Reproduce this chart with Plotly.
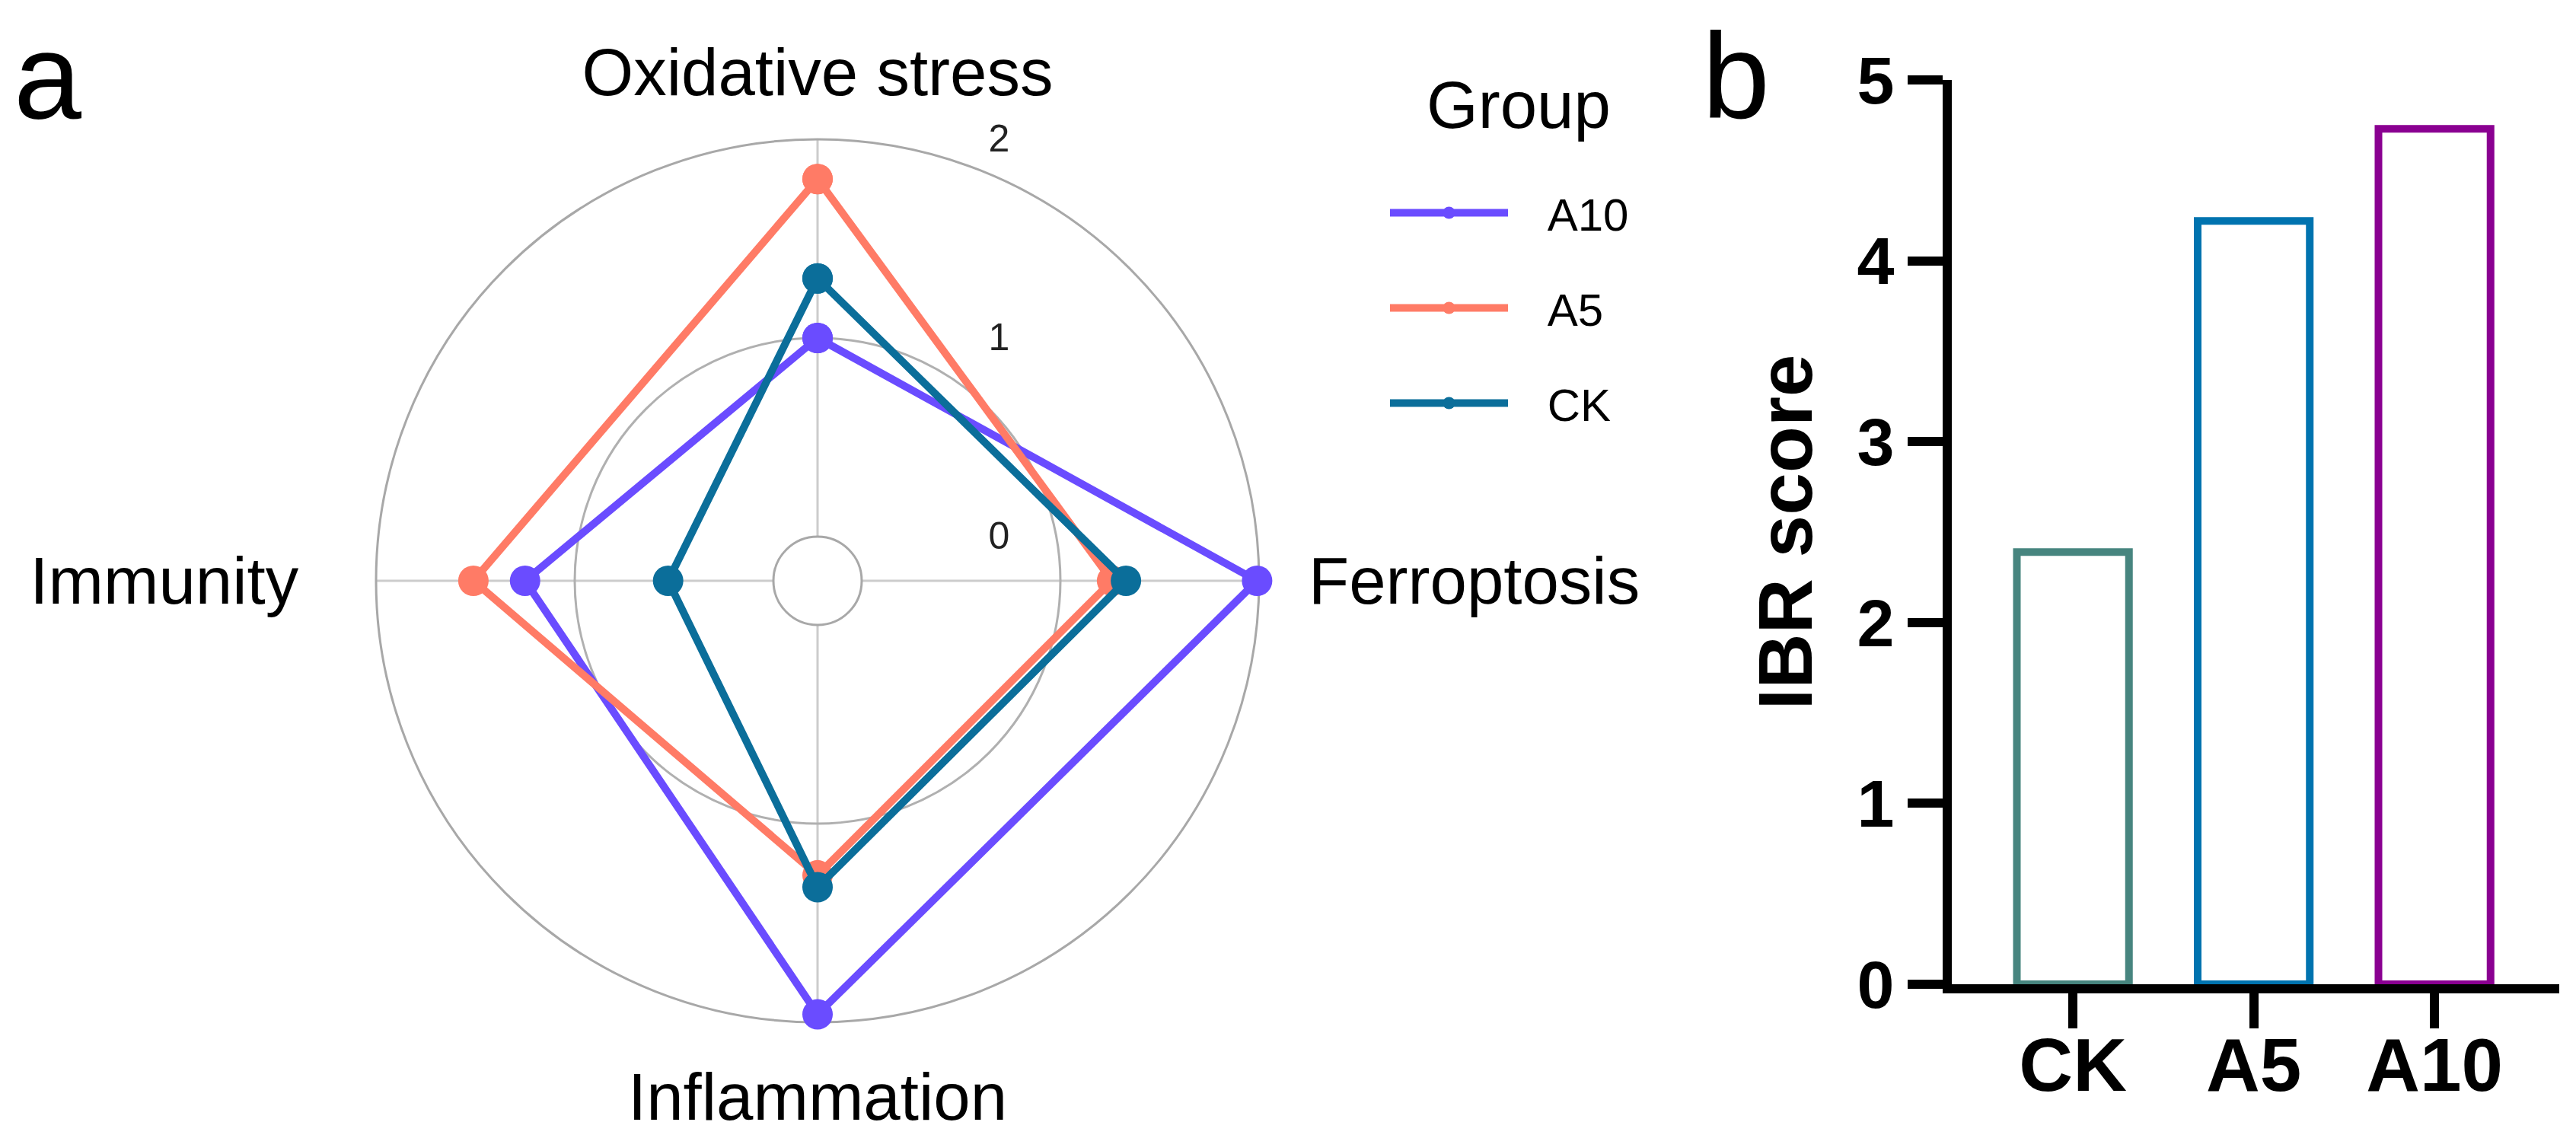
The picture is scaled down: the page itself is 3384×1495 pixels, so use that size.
import plotly.graph_objects as go

# ---------------- data ----------------
axes_names = ["Oxidative stress", "Ferroptosis", "Inflammation", "Immunity"]
axes_text = ["Oxidative stress", "\u00a0Ferroptosis", "Inflammation", "Immunity\u2002\u2009"]
groups = ["A10", "A5", "CK"]
radar_A10 = [1.00, 1.99, 1.96, 1.25]
radar_A5 = [1.80, 1.26, 1.26, 1.51]
radar_CK = [1.30, 1.33, 1.32, 0.53]
radar_colors = ["#6a4cff", "#ff7b66", "#0b6e9a"]
radial_ticks = [0, 1, 2]

bar_categories = ["CK", "A5", "A10"]
bar_values = [2.39, 4.22, 4.73]
bar_colors = ["#47857f", "#0073af", "#8a0091"]
bar_ticks = [0, 1, 2, 3, 4, 5]

FONT = "Liberation Sans, Arial, sans-serif"
W, H = 3384, 1495

fig = go.Figure()

radar_values = [radar_A10, radar_A5, radar_CK]
for g, vals, col in zip(groups, radar_values, radar_colors):
    fig.add_trace(go.Scatterpolar(
        r=vals + vals[:1],
        theta=axes_names + axes_names[:1],
        mode="lines+markers",
        name="\u2002\u00a0" + g,
        legendgroup=g,
        line=dict(color=col, width=10),
        marker=dict(color=col, size=40),
        subplot="polar",
    ))

fig.add_trace(go.Bar(
    x=bar_categories,
    y=bar_values,
    width=0.62,
    marker=dict(color="white", line=dict(color=bar_colors, width=10)),
    showlegend=False,
    xaxis="x", yaxis="y",
))

# polar geometry (center 1066,755 ; radius 580 px)
cx, cy, R = 1066, 755, 580
fig.update_layout(
    width=W, height=H,
    margin=dict(l=0, r=0, t=0, b=0, autoexpand=False),
    paper_bgcolor="white",
    plot_bgcolor="white",
    font=dict(family=FONT, color="black"),
    polar=dict(
        domain=dict(x=[(cx - R) / W, (cx + R) / W],
                    y=[(H - cy - R) / H, (H - cy + R) / H]),
        hole=0.1,
        bgcolor="white",
        radialaxis=dict(
            range=[0, 2], tickvals=radial_ticks, angle=90, tickangle=90,
            showline=False, ticks="outside", ticklen=214,
            tickcolor="rgba(0,0,0,0)",
            tickfont=dict(size=50, color="#222222"),
            gridcolor="#b0b0b0", gridwidth=3,
            layer="below traces",
        ),
        angularaxis=dict(
            categoryorder="array", categoryarray=axes_names,
            tickmode="array", tickvals=axes_names, ticktext=axes_text,
            direction="clockwise", rotation=90,
            showline=True, linecolor="#a8a8a8", linewidth=3,
            gridcolor="#cccccc", gridwidth=3,
            ticks="outside", ticklen=22, tickcolor="rgba(0,0,0,0)",
            tickfont=dict(size=87, color="black"),
            layer="below traces",
        ),
    ),
    xaxis=dict(
        domain=[2556 / W, 3354 / W],
        range=[-0.67, 2.69],
        automargin=False,
        showline=True, linecolor="black", linewidth=12,
        ticks="outside", ticklen=46, tickwidth=12, tickcolor="black",
        ticklabelstandoff=-36,
        tickfont=dict(size=98, family=FONT, color="black", weight="bold"),
        showgrid=False, zeroline=False,
        anchor="y",
    ),
    yaxis=dict(
        domain=[(H - 1285) / H, (H - 97) / H],
        range=[0, 5], tickvals=bar_ticks,
        automargin=False,
        showline=True, linecolor="black", linewidth=12,
        ticks="outside", ticklen=46, tickwidth=12, tickcolor="black",
        tickfont=dict(size=88, family=FONT, color="black", weight="bold"),
        showgrid=False, zeroline=False,
        title=dict(text="IBR score", standoff=30,
                   font=dict(size=100, family=FONT, color="black", weight="bold")),
        anchor="x",
    ),
    legend=dict(
        x=1813 / W, y=1 - 226 / H, xanchor="left", yanchor="top",
        font=dict(size=60, family=FONT, color="black"),
        itemwidth=155,
        tracegroupgap=44,
        bgcolor="rgba(0,0,0,0)",
    ),
    annotations=[
        dict(text="a", x=8 / W, y=1.0, xref="paper", yref="paper",
             xanchor="left", yanchor="top", showarrow=False,
             font=dict(size=160, family=FONT, color="black")),
        dict(text="b", x=2226 / W, y=1.0, xref="paper", yref="paper",
             xanchor="left", yanchor="top", showarrow=False,
             font=dict(size=160, family=FONT, color="black")),
        dict(text="Group", x=1987 / W, y=1 - 129 / H, xref="paper", yref="paper",
             xanchor="center", yanchor="middle", showarrow=False,
             font=dict(size=87, family=FONT, color="black")),
    ],
)

fig.write_html("out.html")
